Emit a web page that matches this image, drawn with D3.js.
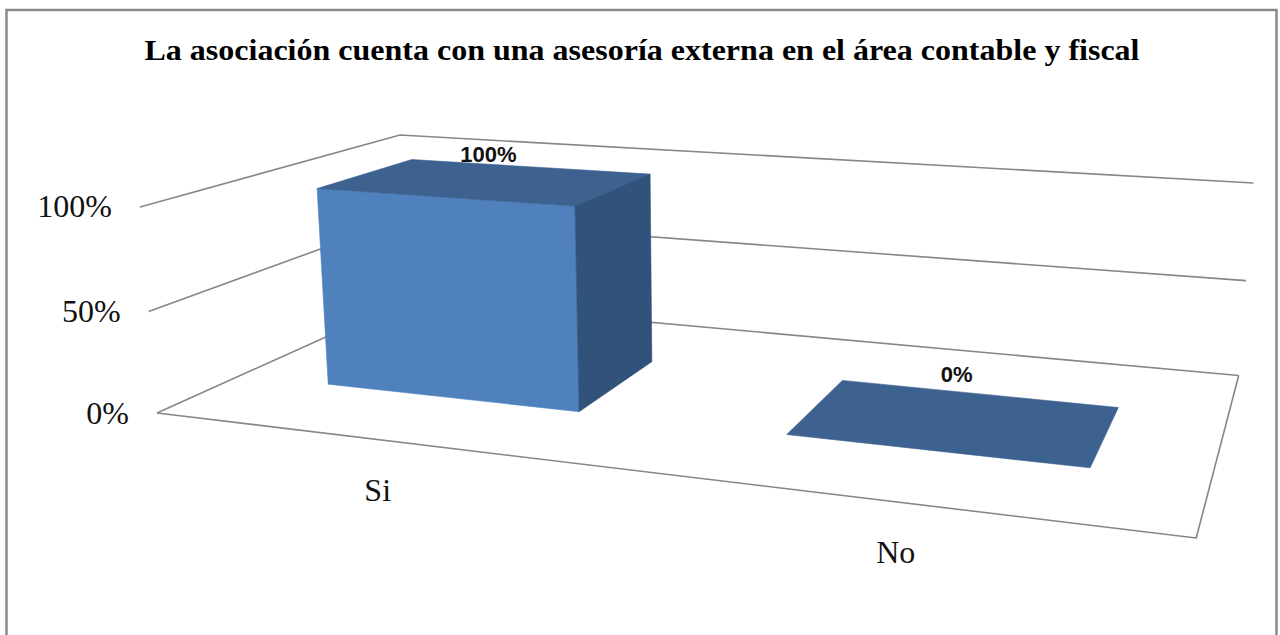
<!DOCTYPE html>
<html>
<head>
<meta charset="utf-8">
<script src="https://cdn.jsdelivr.net/npm/d3@7"></script>
<style>
  html, body { margin: 0; padding: 0; background: #ffffff; }
  svg { display: block; }
</style>
</head>
<body>
<svg id="chart" width="1280" height="635"></svg>
<script>
// ---- data ----
const categories = ["Si", "No"];
const values = [1.00, 0.00];
const tickValues = [0, 0.5, 1];
const tickLabels = ["0%", "50%", "100%"];
const titleText = "La asociación cuenta con una asesoría externa en el área contable y fiscal";

// ---- perspective camera for the 3D plot box (unit cube: X across, Y up, Z into depth) ----
const origin = [157, 413];          // screen position of the front-left floor corner
const vanishX = [-4400, -135];      // vanishing point of the category direction
const vanishY = [715, 7174];        // vanishing point of the value direction
const vanishZ = [1372, -134];       // vanishing point of the depth direction
const weightX = -0.1857, weightY = -0.02957, weightZ = 0.2596;

function project(X, Y, Z) {
  const a = weightX * X, b = weightY * Y, c = weightZ * Z;
  const u = origin[0] + a * vanishX[0] + b * vanishY[0] + c * vanishZ[0];
  const v = origin[1] + a * vanishX[1] + b * vanishY[1] + c * vanishZ[1];
  const w = 1 + a + b + c;
  return [u / w, v / w];
}

// ---- scales ----
const x = d3.scaleBand().domain(categories).range([0, 1]).paddingInner(0.43).paddingOuter(0.21);
const y = d3.scaleLinear().domain([0, 1]).range([0, 1]);
const zFront = 0.29, zBack = 0.68;
const pct = d3.format(".0%");

const svg = d3.select("#chart");

// outer chart border
svg.append("rect")
  .attr("x", 6.5).attr("y", 10).attr("width", 1270).attr("height", 650)
  .attr("fill", "#ffffff").attr("stroke", "#8a8a8a").attr("stroke-width", 2.5);

// title
svg.append("text")
  .attr("x", 642).attr("y", 60)
  .attr("text-anchor", "middle")
  .attr("font-family", "'Liberation Serif', 'Times New Roman', serif")
  .attr("font-weight", "bold")
  .attr("font-size", 30)
  .attr("textLength", 995)
  .attr("lengthAdjust", "spacingAndGlyphs")
  .attr("fill", "#000")
  .text(titleText);

const line = d3.line();
const gridColor = "#878787";

// gridlines on side wall and back wall
const grid = svg.append("g").attr("fill", "none").attr("stroke", gridColor)
  .attr("stroke-width", 1.6).attr("stroke-linejoin", "round");
tickValues.forEach(t => {
  grid.append("path").attr("d", line([
    project(0, y(t), 0), project(0, y(t), 1), project(1, y(t), 1)
  ]));
});
// floor outline (front and right edges)
grid.append("path").attr("d", line([
  project(0, 0, 0), project(1, 0, 0), project(1, 0, 1)
]));

// value axis labels
svg.append("g").selectAll("text").data(tickValues).join("text")
  .attr("x", d => project(0, y(d), 0)[0] - 28)
  .attr("y", d => project(0, y(d), 0)[1] + 10.5)
  .attr("text-anchor", "end")
  .attr("font-family", "'Liberation Serif', 'Times New Roman', serif")
  .attr("font-size", 32)
  .attr("fill", "#111")
  .text((d, i) => tickLabels[i]);

// category labels
svg.append("g").selectAll("text").data(categories).join("text")
  .attr("x", d => project(x(d) + x.bandwidth() / 2, 0, 0)[0])
  .attr("y", d => project(x(d) + x.bandwidth() / 2, 0, 0)[1] + 61)
  .attr("text-anchor", "middle")
  .attr("font-family", "'Liberation Serif', 'Times New Roman', serif")
  .attr("font-size", 32)
  .attr("fill", "#111")
  .text(d => d);

// ---- 3D bars ----
const faceColors = { front: "#4f81bd", top: "#3d6290", right: "#31527a", left: "#31527a", back: "#3d6290", bottom: "#31527a" };

function signedArea(pts) {
  let s = 0;
  for (let i = 0; i < pts.length; i++) {
    const p = pts[i], q = pts[(i + 1) % pts.length];
    s += p[0] * q[1] - q[0] * p[1];
  }
  return s / 2;
}
// reference orientation: the floor seen from above
const refSign = Math.sign(signedArea([
  project(0, 0, 0), project(0, 0, 1), project(1, 0, 1), project(1, 0, 0)
]));

function boxFaces(x0, x1, y0, y1, z0, z1) {
  return [
    { name: "front",  v: [[x0,y0,z0],[x0,y1,z0],[x1,y1,z0],[x1,y0,z0]] },
    { name: "back",   v: [[x0,y0,z1],[x1,y0,z1],[x1,y1,z1],[x0,y1,z1]] },
    { name: "top",    v: [[x0,y1,z0],[x0,y1,z1],[x1,y1,z1],[x1,y1,z0]] },
    { name: "bottom", v: [[x0,y0,z0],[x1,y0,z0],[x1,y0,z1],[x0,y0,z1]] },
    { name: "right",  v: [[x1,y0,z0],[x1,y1,z0],[x1,y1,z1],[x1,y0,z1]] },
    { name: "left",   v: [[x0,y0,z0],[x0,y0,z1],[x0,y1,z1],[x0,y1,z0]] }
  ];
}

const bars = svg.append("g");
const labels = svg.append("g");

categories.forEach((cat, i) => {
  const x0 = x(cat), x1 = x(cat) + x.bandwidth();
  const y0 = y(0), y1 = y(values[i]);
  const faces = boxFaces(x0, x1, y0, y1, zFront, zBack)
    .map(f => ({ name: f.name, pts: f.v.map(p => project(p[0], p[1], p[2])) }))
    .filter(f => {
      const a = signedArea(f.pts);
      return Math.sign(a) === refSign && Math.abs(a) > 0.5;
    });
  const g = bars.append("g");
  g.selectAll("path").data(faces).join("path")
    .attr("d", f => line(f.pts) + "Z")
    .attr("fill", f => faceColors[f.name])
    .attr("stroke", f => faceColors[f.name])
    .attr("stroke-width", 0.6);

  // data label above the projected bar
  const all = faces.flatMap(f => f.pts);
  const [minX, maxX] = d3.extent(all, p => p[0]);
  const minY = d3.min(all, p => p[1]);
  labels.append("text")
    .attr("x", (minX + maxX) / 2 + 4)
    .attr("y", minY + 2)
    .attr("text-anchor", "middle")
    .attr("font-family", "'Liberation Sans', Arial, sans-serif")
    .attr("font-weight", "bold")
    .attr("font-size", 22)
    .attr("fill", "#111")
    .text(pct(values[i]));
});
</script>
</body>
</html>
